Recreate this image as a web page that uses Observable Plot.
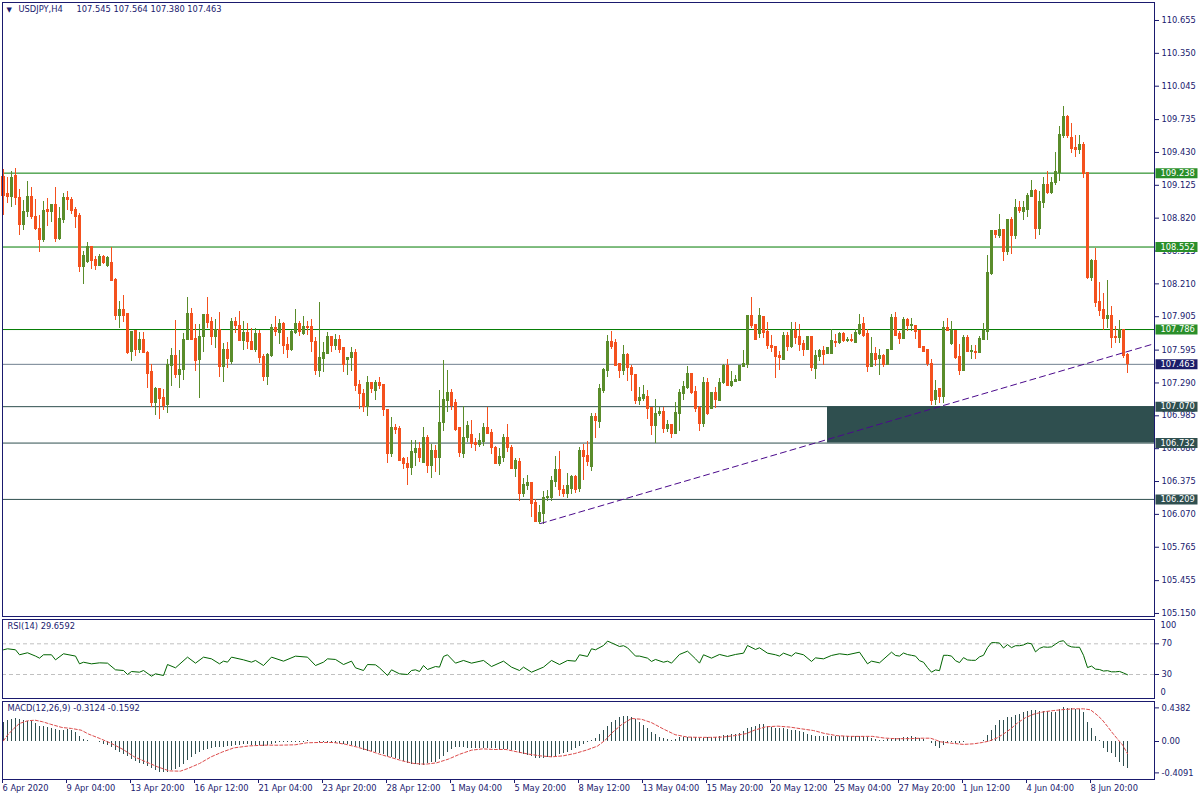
<!DOCTYPE html>
<html><head><meta charset="utf-8">
<script src="https://cdn.jsdelivr.net/npm/d3@7"></script>
<script src="https://cdn.jsdelivr.net/npm/@observablehq/plot@0.6"></script>
<style>
body{margin:0;background:#fff;}
#chart{position:relative;width:1200px;height:800px;overflow:hidden;background:#fff;}
#chart svg{position:absolute;left:0;overflow:visible;}
</style></head><body><div id="chart"></div>
<script>
// ---- DATA (USDJPY H4, bar index 0 = 6 Apr 2020 12:00) ----
const titleSymbol = "USDJPY,H4";
const titleValues = [107.545, 107.564, 107.380, 107.463];

const opens = [
109.20,109.04,109.02,109.21,109.01,108.76,108.88,109.02,108.83,108.72,
108.62,108.90,108.88,108.94,108.63,108.80,109.01,108.99,108.90,108.84,
108.37,108.41,108.55,108.43,108.38,108.46,108.38,108.40,108.25,107.91,
107.97,107.93,107.58,107.77,107.60,107.69,107.57,107.39,107.10,107.23,
107.15,107.09,107.45,107.54,107.36,107.41,107.69,107.93,107.70,107.50,
107.72,107.92,107.86,107.72,107.78,107.44,107.60,107.48,107.86,107.82,
107.68,107.75,107.67,107.60,107.74,107.53,107.35,107.54,107.80,107.75,
107.84,107.64,107.60,107.75,107.84,107.74,107.81,107.81,107.67,107.40,
107.51,107.56,107.72,107.63,107.69,107.61,107.50,107.52,107.57,107.27,
107.19,107.07,107.29,107.22,107.29,107.27,107.04,106.63,106.87,106.86,
106.58,106.54,106.50,106.64,106.68,106.55,106.78,106.52,106.66,106.59,
106.92,107.12,107.20,107.10,106.87,106.63,106.78,106.81,106.73,106.71,
106.74,106.87,106.83,106.69,106.54,106.59,106.78,106.69,106.49,106.56,
106.26,106.33,106.36,106.18,106.00,106.07,106.22,106.22,106.37,106.48,
106.30,106.26,106.31,106.42,106.31,106.66,106.61,106.51,106.97,106.93,
107.22,107.40,107.67,107.66,107.47,107.40,107.55,107.43,107.36,107.12,
107.14,107.16,107.06,106.89,107.00,107.02,106.86,106.90,106.82,107.00,
107.19,107.24,107.37,107.21,107.06,106.91,107.29,107.05,107.20,107.12,
107.29,107.45,107.26,107.30,107.31,107.44,107.46,107.91,107.83,107.74,
107.90,107.76,107.63,107.62,107.54,107.50,107.73,107.62,107.77,107.72,
107.65,107.60,107.72,107.42,107.53,107.59,107.56,107.56,107.67,107.66,
107.74,107.68,107.69,107.66,107.74,107.84,107.74,107.44,107.56,107.51,
107.54,107.46,107.60,107.89,107.74,107.70,107.87,107.82,107.82,107.77,
107.62,107.60,107.47,107.13,107.23,107.16,107.80,107.65,107.77,107.53,
107.40,107.71,107.58,107.58,107.57,107.69,107.76,108.30,108.70,108.65,
108.71,108.51,108.80,108.65,108.91,108.88,108.90,109.02,109.07,108.72,
108.96,109.13,109.05,109.15,109.24,109.58,109.76,109.56,109.47,109.45,
109.50,109.24,108.26,108.42,108.04,107.97,107.88,107.91,107.72,107.71,
107.78,107.545];
const highs = [
109.27,109.20,109.25,109.28,109.09,108.98,109.16,109.10,108.99,108.84,
108.97,109.00,108.95,109.10,108.92,109.05,109.07,109.01,108.92,108.86,
108.51,108.59,108.56,108.46,108.48,108.47,108.46,108.55,108.26,108.05,
108.10,107.93,107.77,107.77,107.76,107.76,107.58,107.46,107.25,107.23,
107.23,107.51,107.61,107.87,107.59,107.75,108.08,107.98,107.83,107.83,
107.93,108.08,107.90,107.88,107.94,107.66,107.67,107.885,107.90,107.95,
107.86,107.84,107.80,107.80,107.78,107.55,107.56,107.83,107.91,107.88,
107.85,107.71,107.78,107.97,107.86,107.91,107.86,107.88,107.71,108.04,
107.67,107.76,107.72,107.74,107.73,107.62,107.52,107.62,107.60,107.31,
107.23,107.35,107.29,107.31,107.34,107.27,107.04,106.97,106.90,106.89,
106.60,106.60,106.76,106.76,106.74,106.88,106.80,106.72,106.71,107.22,
107.50,107.41,107.23,107.14,106.88,107.07,106.93,106.94,106.77,106.82,
106.91,107.06,106.86,106.70,106.68,106.81,106.90,106.71,106.59,106.59,
106.40,106.43,106.36,106.21,106.15,106.28,106.29,106.42,106.61,106.65,
106.34,106.45,106.43,106.43,106.69,106.72,106.75,107.01,107.01,107.28,
107.42,107.73,107.77,107.69,107.47,107.64,107.56,107.45,107.37,107.25,
107.27,107.22,107.06,107.14,107.06,107.06,106.94,106.90,107.11,107.23,
107.30,107.44,107.38,107.26,107.07,107.34,107.33,107.20,107.25,107.33,
107.46,107.51,107.40,107.36,107.45,107.59,107.91,108.08,107.83,107.98,
107.91,107.85,107.73,107.62,107.58,107.76,107.76,107.85,107.85,107.83,
107.68,107.72,107.72,107.59,107.60,107.63,107.62,107.79,107.74,107.76,
107.76,107.71,107.74,107.79,107.93,107.90,107.79,107.71,107.62,107.60,
107.55,107.60,107.93,107.94,107.77,107.90,107.89,107.89,107.82,107.78,
107.63,107.60,107.51,107.31,107.23,107.86,107.89,107.86,107.78,107.65,
107.73,107.73,107.64,107.64,107.72,107.84,108.47,108.71,108.71,108.85,
108.71,108.80,108.83,108.99,108.97,108.97,109.05,109.17,109.09,109.07,
109.20,109.25,109.20,109.43,109.67,109.86,109.77,109.70,109.59,109.59,
109.52,109.24,108.44,108.54,108.22,108.12,108.24,108.00,107.81,107.87,
107.79,107.564];
const lows = [
108.84,108.96,108.92,108.94,108.66,108.71,108.83,108.81,108.71,108.50,
108.59,108.74,108.78,108.59,108.61,108.77,108.89,108.85,108.72,108.32,
108.20,108.40,108.34,108.33,108.37,108.39,108.36,108.24,107.87,107.80,
107.85,107.55,107.49,107.54,107.56,107.56,107.24,107.06,106.99,106.95,
107.03,107.01,107.26,107.33,107.24,107.31,107.68,107.68,107.40,107.15,
107.57,107.80,107.64,107.61,107.34,107.29,107.42,107.46,107.75,107.68,
107.59,107.60,107.60,107.57,107.47,107.30,107.27,107.53,107.72,107.65,
107.55,107.52,107.58,107.74,107.72,107.73,107.73,107.57,107.36,107.34,
107.39,107.55,107.57,107.59,107.56,107.39,107.36,107.40,107.21,107.04,
107.02,106.98,107.19,107.13,107.23,106.98,106.54,106.60,106.81,106.56,
106.49,106.34,106.43,106.51,106.55,106.54,106.45,106.40,106.46,106.43,
106.84,107.02,107.03,106.84,106.60,106.59,106.74,106.68,106.65,106.69,
106.70,106.81,106.63,106.54,106.51,106.55,106.64,106.49,106.41,106.19,
106.23,106.29,106.04,106.00,105.98,105.98,106.19,106.19,106.32,106.24,
106.23,106.22,106.25,106.26,106.27,106.38,106.51,106.47,106.77,106.87,
107.19,107.34,107.60,107.44,107.33,107.36,107.30,107.21,107.09,107.08,
107.12,106.95,106.80,106.73,106.98,106.82,106.83,106.77,106.81,106.84,
107.13,107.23,107.18,107.02,106.84,106.88,106.99,107.04,107.05,107.12,
107.28,107.26,107.25,107.29,107.30,107.43,107.42,107.80,107.68,107.70,
107.70,107.60,107.57,107.33,107.41,107.50,107.58,107.61,107.65,107.58,
107.54,107.59,107.40,107.32,107.49,107.45,107.55,107.55,107.62,107.65,
107.67,107.67,107.67,107.66,107.73,107.71,107.39,107.44,107.44,107.36,
107.43,107.45,107.60,107.73,107.65,107.70,107.77,107.77,107.69,107.61,
107.57,107.44,107.08,107.08,107.10,107.10,107.77,107.64,107.51,107.36,
107.40,107.57,107.51,107.51,107.57,107.69,107.68,108.29,108.63,108.63,
108.42,108.47,108.48,108.62,108.86,108.80,108.83,109.02,108.62,108.66,
108.91,109.04,109.04,109.12,109.16,109.56,109.56,109.42,109.38,109.41,
109.19,108.25,108.23,107.99,107.91,107.78,107.80,107.61,107.66,107.66,
107.52,107.38];
const closes = [
109.03,109.02,109.19,109.01,108.76,108.88,109.02,108.83,108.72,108.62,
108.89,108.88,108.94,108.63,108.81,109.01,108.99,108.89,108.83,108.37,
108.47,108.55,108.42,108.38,108.46,108.40,108.45,108.24,107.91,107.97,
107.91,107.57,107.76,107.60,107.69,107.57,107.37,107.10,107.23,107.14,
107.08,107.46,107.54,107.36,107.41,107.69,107.93,107.69,107.49,107.72,
107.92,107.85,107.72,107.78,107.44,107.60,107.51,107.86,107.82,107.68,
107.75,107.67,107.60,107.74,107.52,107.35,107.55,107.80,107.76,107.84,
107.63,107.60,107.76,107.84,107.76,107.81,107.80,107.67,107.40,107.52,
107.57,107.72,107.63,107.69,107.60,107.46,107.52,107.57,107.26,107.19,
107.07,107.29,107.23,107.29,107.26,107.04,106.63,106.87,106.85,106.57,
106.54,106.50,106.65,106.68,106.59,106.78,106.52,106.66,106.59,106.92,
107.13,107.20,107.08,106.85,106.64,106.78,106.89,106.72,106.71,106.75,
106.87,106.82,106.69,106.54,106.60,106.78,106.69,106.49,106.57,106.26,
106.34,106.36,106.17,106.00,106.08,106.22,106.23,106.38,106.48,106.30,
106.26,106.33,106.42,106.30,106.66,106.60,106.56,106.97,106.94,107.23,
107.41,107.67,107.62,107.45,107.40,107.55,107.43,107.36,107.12,107.15,
107.18,107.05,106.89,107.00,107.02,106.86,106.90,106.82,107.01,107.20,
107.25,107.37,107.20,107.05,106.91,107.29,107.00,107.20,107.13,107.29,
107.45,107.26,107.30,107.32,107.45,107.47,107.91,107.82,107.69,107.91,
107.75,107.63,107.61,107.53,107.52,107.73,107.62,107.77,107.71,107.64,
107.60,107.72,107.43,107.54,107.59,107.55,107.61,107.68,107.66,107.74,
107.68,107.69,107.68,107.75,107.83,107.73,107.44,107.56,107.50,107.54,
107.46,107.60,107.89,107.73,107.70,107.87,107.82,107.83,107.76,107.61,
107.58,107.47,107.12,107.22,107.16,107.80,107.77,107.77,107.52,107.40,
107.71,107.58,107.59,107.57,107.70,107.77,108.31,108.70,108.66,108.71,
108.51,108.80,108.65,108.91,108.89,108.91,109.03,109.07,108.72,108.97,
109.13,109.05,109.15,109.25,109.59,109.76,109.58,109.46,109.45,109.50,
109.23,108.26,108.42,108.03,107.96,107.88,107.91,107.71,107.71,107.78,
107.54,107.463];

const priceTicks = [110.655,110.350,110.045,109.735,109.430,109.125,108.820,108.515,108.210,107.905,
  107.595,107.290,106.985,106.680,106.375,106.070,105.765,105.455,105.150];

const resistancePrices = [109.238, 108.552, 107.786];
const bidPrice = [107.463];
const zonePrices = [106.732, 107.070];
const supportPrices = [106.209];

const zoneBars   = [206, 287.75];
const trendBars   = [134.25, 287.75];
const trendPrices = [105.985, 107.655];

const rsiTitle = "RSI(14) 29.6592";
const rsiLevels = [70, 30];
const rsiBounds = [100, 0];
const rsiBars = [0,1,3,4,6,8,9,10,12,13,15,18,19,20,22,24,26,28,30,31,32,34,35,37,38,40,41,43,46,48,50,52,54,55,56,57,60,62,63,65,67,70,73,76,78,80,81,83,85,87,88,90,91,93,94,96,97,99,101,102,103,104,105,106,108,109,110,111,113,115,117,120,122,125,127,129,130,132,135,137,139,141,143,144,146,147,148,150,151,152,154,155,156,158,159,161,162,163,165,166,167,169,171,173,174,175,177,179,181,183,185,186,188,189,191,193,194,195,197,198,200,202,203,205,207,209,211,214,216,217,219,222,223,224,225,226,227,228,229,230,231,232,233,234,235,236,237,238,239,240,241,242,243,244,245,246,247,248,249,250,251,252,253,254,255,256,257,258,259,260,261,262,263,264,265,266,267,268,269,270,271,272,273,274,275,276,277,278,279,280,281];
const rsiValues = [62.2,63.5,62.2,55.7,58.3,54,51.3,55.7,55.7,49.1,57,54,43.9,46,43.9,45.2,44.8,36.1,35.2,30,33.9,33,35.2,27.8,30.9,28.7,43,38.7,52.6,44.8,52.6,50.4,43.9,47.4,46.1,52.6,49.1,46.1,48.3,41.7,52.6,47.4,53.9,52.6,41.7,46.1,50.4,49.6,43,47.4,38.7,35.2,43,42.6,38.7,28.7,36.1,30.9,30,35.2,36.1,33.9,41.7,36.5,40.4,39.6,53.5,55.7,44.8,48.3,44.8,48.3,40.4,47.4,39.6,35.2,39.6,33,39.6,48.3,43,48.3,47.4,55.7,53.5,63.5,62.2,67.8,73.5,71.3,66.5,67.5,64.8,54,54,51.3,47,49.6,46,47.4,44.8,56.1,60.4,50.4,44.8,55.7,51.3,56.1,53.5,56.1,57.8,67.8,62.6,64.8,57.8,55.7,54,57.8,54,58.3,55.7,47,51.7,50.4,54.8,57,55.7,59.1,43.9,47.4,45.2,59.1,54.8,54,58,56,55,54,48,46,39,33,36,35,55,55,54,48,45.5,52,49,48.5,48.5,53,55,65,71.5,71.5,71,64.5,69,65,67.5,67.5,68.5,71,70,59.5,64,66,65.5,66,69.5,73,74,68,66,65.5,65.5,55,39,41,37,36.5,34.5,35,33.5,33.5,34,32,29.66];

const macdTitle = "MACD(12,26,9) -0.3124 -0.1592";
const macdTicks = [0.4382, 0, -0.4091];
const macdValues = [
.243,.278,.291,.304,.287,.270,.265,.256,.235,.191,
.190,.183,.170,.157,.148,.148,.152,.139,.113,.061,
.026,.017,.004,-.004,-.017,-.035,-.048,-.078,-.113,-.148,
-.174,-.200,-.235,-.265,-.287,-.304,-.322,-.348,-.374,-.400,
-.409,-.405,-.383,-.365,-.339,-.296,-.243,-.209,-.165,-.143,
-.122,-.100,-.087,-.083,-.083,-.083,-.070,-.061,-.048,-.048,
-.043,-.043,-.048,-.048,-.057,-.061,-.052,-.039,-.026,-.017,
-.009,-.017,-.017,-.013,-.017,-.009,.009,.004,-.004,-.013,
-.017,-.026,-.026,-.022,-.026,-.035,-.043,-.048,-.061,-.078,
-.113,-.135,-.135,-.143,-.157,-.165,-.191,-.209,-.222,-.235,
-.265,-.287,-.296,-.304,-.309,-.309,-.287,-.278,-.270,-.235,
-.200,-.148,-.104,-.083,-.078,-.078,-.087,-.091,-.091,-.091,
-.091,-.091,-.091,-.096,-.104,-.104,-.104,-.113,-.122,-.157,
-.170,-.178,-.200,-.217,-.222,-.222,-.213,-.204,-.191,-.174,
-.157,-.139,-.122,-.096,-.070,-.040,-.015,.012,.040,.090,
.147,.190,.245,.280,.308,.321,.326,.317,.290,.245,
.210,.165,.120,.085,.058,.040,.022,.013,.031,.049,
.058,.058,.058,.054,.045,.045,.049,.058,.058,.067,
.076,.080,.085,.094,.103,.134,.165,.188,.200,.219,
.219,.200,.183,.174,.165,.165,.156,.147,.138,.125,
.112,.094,.076,.067,.067,.067,.067,.063,.063,.067,
.067,.067,.067,.067,.067,.063,.054,.040,.022,.013,
.013,.022,.031,.036,.040,.047,.047,.060,.055,.038,
.021,.004,-.030,-.060,-.089,-.055,-.030,-.013,-.030,-.030,
-.013,-.004,-.004,-.004,.002,.013,.077,.149,.213,.277,
.277,.319,.315,.345,.357,.374,.396,.404,.404,.387,
.391,.387,.379,.383,.413,.438,.430,.430,.420,.420,
.379,.251,.166,.064,.013,-.089,-.145,-.157,-.209,-.277,
-.328,-.357];
const signalBars = [0,1,2.6,4,6,7.9,9.8,11.7,14.6,17,19.4,21.3,24.1,27,29.9,32.7,35.6,38.5,41.4,44.2,46.1,49,51.9,54.8,57.6,61.5,65.3,69.1,72.9,75.8,78.7,82.5,85.4,88.2,91.1,94,96.9,99.7,102.6,105.5,108.3,111.2,114.1,117,119.8,122.7,125.6,128.4,131.3,134.2,137,139.9,142.8,145.7,148.5,150.5,152.1,154.6,157,159.5,162,164.9,167.9,170.9,173.8,176.8,179.8,182.7,185.7,187.7,190.6,193.6,196.6,199.5,202.5,205.4,208.4,211.4,214.4,217.3,220.2,223.2,226.75,229.25,231.75,233,234.25,236.75,240,242.6,244.7,246.3,248.4,250,251.75,253.4,255.5,257.6,260,262.6,265.1,267.6,270,271.75,273.4,274.7,276,277.25,278.6,279.8,281];
const signalValues = [0.009,0.083,0.17,0.235,0.27,0.278,0.257,0.226,0.183,0.17,0.148,0.096,0.039,-0.026,-0.104,-0.2,-0.265,-0.33,-0.383,-0.387,-0.352,-0.287,-0.2,-0.135,-0.083,-0.057,-0.048,-0.048,-0.043,-0.017,-0.013,-0.013,-0.035,-0.07,-0.113,-0.165,-0.209,-0.252,-0.287,-0.296,-0.278,-0.23,-0.165,-0.113,-0.096,-0.104,-0.104,-0.135,-0.165,-0.187,-0.2,-0.187,-0.157,-0.113,-0.06,0.02,0.112,0.223,0.3,0.29,0.246,0.165,0.089,0.058,0.054,0.054,0.058,0.076,0.103,0.147,0.192,0.2,0.188,0.165,0.143,0.103,0.076,0.067,0.067,0.067,0.045,0.036,0.038,0.043,0.043,0.021,-0.004,-0.021,-0.038,-0.03,-0.013,0.004,0.047,0.098,0.162,0.238,0.311,0.357,0.387,0.404,0.417,0.426,0.426,0.413,0.345,0.281,0.196,0.111,0.026,-0.047,-0.159];

const timeTickBars = [0,16,32,48,64,80,96,112,128,144,160,176,192,208,224,240,256,272];
const timeTickLabels = ["6 Apr 2020","9 Apr 04:00","13 Apr 20:00","16 Apr 12:00","21 Apr 04:00","23 Apr 20:00",
  "28 Apr 12:00","1 May 04:00","5 May 20:00","8 May 12:00","13 May 04:00","15 May 20:00","20 May 12:00",
  "25 May 04:00","27 May 20:00","1 Jun 12:00","4 Jun 04:00","8 Jun 20:00"];

// ---- STYLE ----
const NAVY = "#1a1a6e";
const UP = "#5a8c2b", DOWN = "#f4511e";
const GREEN_LINE = "#007a00", GREEN_BOX = "#2a8f2a";
const SLATE = "#2f4f4f", BID_LINE = "#708090", BID_BOX = "#1c1c6a";
const font = {fontFamily: "'DejaVu Sans', sans-serif", fontSize: "8.3px", color: NAVY, background: "transparent", overflow: "visible"};
const xDomain = [-0.25, 287.75];
const W = 1200, ML = 2, MR = 46;

// ---- TABLES ----
const bars = opens.map((o, i) => ({i, o, h: highs[i], l: lows[i], c: closes[i], up: closes[i] >= o}));
const upBars = bars.filter(d => d.up), downBars = bars.filter(d => !d.up);
const zone = [{x1: zoneBars[0], x2: zoneBars[1], y1: zonePrices[0], y2: zonePrices[1]}];
const trend = trendBars.map((b, k) => ({bar: b, price: trendPrices[k]}));
const rsiRows = rsiBars.map((b, k) => ({bar: b, value: rsiValues[k]}));
const macdRows = macdValues.map((v, i) => ({i, v}));
const signalRows = signalBars.map((b, k) => ({bar: b, value: signalValues[k]}));

const boxSymbol = {draw(ctx) { ctx.moveTo(1, -5); ctx.lineTo(43, -5); ctx.lineTo(43, 5); ctx.lineTo(1, 5); ctx.closePath(); }};

function candleMarks(data, color) {
  return [
    Plot.ruleX(data, {x: "i", y1: "l", y2: "h", stroke: color, shapeRendering: "crispEdges"}),
    Plot.rect(data, {x1: d => d.i - 0.375, x2: d => d.i + 0.375,
      y1: d => Math.min(d.o, d.c), y2: d => Math.max(d.o, d.c),
      fill: color, insetTop: -0.5, insetBottom: -0.5, shapeRendering: "crispEdges"})
  ];
}
function levelLine(prices, color) {
  return Plot.ruleY(prices, {y: d => d, stroke: color, strokeWidth: 1, strokeOpacity: 1});
}
function priceLabel(prices, color) {
  return [
    Plot.dot(prices, {y: d => d, frameAnchor: "right", symbol: boxSymbol, fill: color, stroke: "none"}),
    Plot.text(prices, {y: d => d, frameAnchor: "right", text: d => d.toFixed(3), dx: 6, textAnchor: "start", fill: "white"})
  ];
}

// ---- MAIN PANEL ----
const main = Plot.plot({
  width: W, height: 617, marginLeft: ML, marginRight: MR, marginTop: 2, marginBottom: 1,
  style: font,
  x: {type: "linear", domain: xDomain, axis: null},
  y: {domain: [105.122, 110.822], label: null},
  marks: [
    Plot.rect(zone, {x1: "x1", x2: "x2", y1: "y1", y2: "y2", fill: SLATE}),
    levelLine(resistancePrices, GREEN_LINE),
    levelLine(bidPrice, BID_LINE),
    levelLine(zonePrices, SLATE),
    levelLine(supportPrices, SLATE),
    ...candleMarks(upBars, UP),
    ...candleMarks(downBars, DOWN),
    Plot.line(trend, {x: "bar", y: "price", stroke: "#4b0a8c", strokeWidth: 1, strokeDasharray: "6,4"}),
    Plot.frame({stroke: NAVY}),
    Plot.axisY({anchor: "right", ticks: priceTicks, tickFormat: d3.format(".3f"), tickSize: 4, tickPadding: 3, label: null}),
    ...priceLabel(resistancePrices, GREEN_BOX),
    ...priceLabel(bidPrice, BID_BOX),
    ...priceLabel(zonePrices, SLATE),
    ...priceLabel(supportPrices, SLATE),
    Plot.text(["▼"], {frameAnchor: "top-left", dx: 4, dy: 5, lineAnchor: "top", textAnchor: "start", fontSize: 7, fill: NAVY}),
    Plot.text([titleSymbol], {frameAnchor: "top-left", dx: 16, dy: 3.5, lineAnchor: "top", textAnchor: "start", fill: NAVY}),
    Plot.text([titleValues.map(v => v.toFixed(3)).join(" ")], {frameAnchor: "top-left", dx: 74, dy: 3.5, lineAnchor: "top", textAnchor: "start", fill: NAVY})
  ]
});

// ---- RSI PANEL ----
const rsi = Plot.plot({
  width: W, height: 83, marginLeft: ML, marginRight: MR, marginTop: 2, marginBottom: 2,
  style: font,
  x: {type: "linear", domain: xDomain, axis: null},
  y: {domain: [-1.27, 101.66], label: null},
  marks: [
    Plot.ruleY(rsiLevels, {y: d => d, stroke: "#c0c0c0", strokeDasharray: "4,3"}),
    Plot.line(rsiRows, {x: "bar", y: "value", stroke: "#006400", strokeWidth: 1}),
    Plot.frame({stroke: NAVY}),
    Plot.axisY({anchor: "right", ticks: rsiLevels, tickFormat: d => String(d), tickSize: 4, tickPadding: 3, label: null}),
    Plot.text([rsiBounds[0]], {y: d => d, text: d => String(d), frameAnchor: "right", dx: 6, dy: 5, textAnchor: "start", fill: NAVY}),
    Plot.text([rsiBounds[1]], {y: d => d, text: d => String(d), frameAnchor: "right", dx: 6, dy: -5, textAnchor: "start", fill: NAVY}),
    Plot.text([rsiTitle], {frameAnchor: "top-left", dx: 5, dy: 3.5, lineAnchor: "top", textAnchor: "start", fill: NAVY})
  ]
});

// ---- MACD PANEL ----
const macd = Plot.plot({
  width: W, height: 100, marginLeft: ML, marginRight: MR, marginTop: 1, marginBottom: 21,
  style: font,
  x: {type: "linear", domain: xDomain, label: null},
  y: {domain: [-0.4954, 0.5215], label: null},
  marks: [
    Plot.ruleX(macdRows, {x: "i", y1: 0, y2: "v", stroke: "#2f4f4f", shapeRendering: "crispEdges"}),
    Plot.line(signalRows, {x: "bar", y: "value", stroke: "#dc4c4c", strokeWidth: 1, strokeDasharray: "3,2"}),
    Plot.frame({stroke: NAVY}),
    Plot.axisY({anchor: "right", ticks: macdTicks, tickFormat: d => d === 0 ? "0.00" : d.toFixed(4), tickSize: 4, tickPadding: 3, label: null}),
    Plot.axisX({anchor: "bottom", ticks: timeTickBars, tickFormat: d => timeTickLabels[timeTickBars.indexOf(d)],
      textAnchor: "start", dx: -1, tickSize: 4, tickPadding: 2, label: null}),
    Plot.text([macdTitle], {frameAnchor: "top-left", dx: 5, dy: 3.5, lineAnchor: "top", textAnchor: "start", fill: NAVY})
  ]
});

const root = document.getElementById("chart");
[[main, 0], [rsi, 617], [macd, 700]].forEach(([el, top]) => {
  el.style.position = "absolute";
  el.style.top = top + "px";
  el.style.left = "0px";
  root.appendChild(el);
});
</script></body></html>
